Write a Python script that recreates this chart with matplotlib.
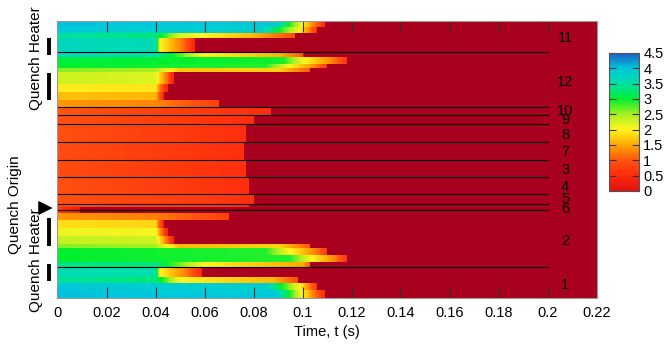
import numpy as np
import matplotlib
matplotlib.use("Agg")
import matplotlib.pyplot as plt
from matplotlib.colors import LinearSegmentedColormap, Normalize

plt.rcParams['font.family'] = ['Liberation Sans', 'DejaVu Sans']

########## data ######################################################################
# position along the coil (arbitrary units, 0 = bottom edge, 277 = top edge)
# each band: lower edge, upper edge, breakpoint times and values (-1 = quenched)
band_lo = [0, 8, 15, 21, 31, 36, 43, 50, 54, 62, 70, 78, 85, 91, 94, 104, 121, 138,
           156, 174, 183, 191, 198, 206, 214, 226, 230, 234, 241, 246, 260, 265, 271]
band_hi = band_lo[1:] + [277]

band_t = [
    [0, 0.089, 0.100, 0.109, 0.1095],
    [0, 0.085, 0.099, 0.106, 0.1065],
    [0, 0.040, 0.050, 0.088, 0.098, 0.0985],
    [0, 0.040, 0.042, 0.053, 0.059, 0.0595],
    [0, 0.040, 0.060, 0.100, 0.103, 0.1035],
    [0, 0.095, 0.104, 0.113, 0.118, 0.1185],
    [0, 0.085, 0.095, 0.105, 0.110, 0.1105],
    [0, 0.040, 0.050, 0.090, 0.103, 0.1035],
    [0, 0.040, 0.0445, 0.0475, 0.048],
    [0, 0.040, 0.0425, 0.045, 0.0455],
    [0, 0.040, 0.0415, 0.0435, 0.044],
    [0, 0.040, 0.070, 0.0705],
    [0, 0.004, 0.009, 0.0095],
    [0, 0.070, 0.078, 0.0785],
    [0, 0.070, 0.080, 0.0805],
    [0, 0.078, 0.0785],
    [0, 0.077, 0.0775],
    [0, 0.076, 0.0765],
    [0, 0.077, 0.0775],
    [0, 0.080, 0.0805],
    [0, 0.087, 0.0875],
    [0, 0.040, 0.066, 0.0665],
    [0, 0.040, 0.0415, 0.0435, 0.044],
    [0, 0.040, 0.042, 0.045, 0.0455],
    [0, 0.040, 0.0445, 0.0475, 0.048],
    [0, 0.040, 0.050, 0.090, 0.103, 0.1035],
    [0, 0.085, 0.095, 0.105, 0.110, 0.1105],
    [0, 0.092, 0.101, 0.112, 0.118, 0.1185],
    [0, 0.040, 0.060, 0.090, 0.100, 0.1005],
    [0, 0.040, 0.042, 0.051, 0.056, 0.0565],
    [0, 0.040, 0.050, 0.080, 0.097, 0.0975],
    [0, 0.083, 0.099, 0.106, 0.1065],
    [0, 0.089, 0.100, 0.109, 0.1095],
]
band_v = [
    [4.02, 3.95, 2.0, 0.5, -1],
    [3.95, 3.85, 2.0, 0.6, -1],
    [3.45, 3.3, 2.0, 1.6, 0.9, -1],
    [3.6, 3.5, 2.0, 1.2, 0.4, -1],
    [3.35, 3.3, 2.0, 1.5, 1.0, -1],
    [3.0, 2.9, 2.0, 1.3, 0.6, -1],
    [3.0, 2.9, 2.0, 1.3, 0.6, -1],
    [2.6, 2.5, 1.6, 1.8, 1.0, -1],
    [2.35, 2.3, 1.2, 0.3, -1],
    [2.1, 2.05, 1.2, 0.3, -1],
    [1.85, 1.8, 1.1, 0.3, -1],
    [1.4, 1.25, 0.75, -1],
    [0.65, 0.45, 0.2, -1],
    [0.85, 0.65, 0.55, -1],
    [0.95, 0.65, 0.55, -1],
    [0.95, 0.55, -1],
    [0.9, 0.55, -1],
    [0.9, 0.55, -1],
    [0.95, 0.55, -1],
    [0.95, 0.55, -1],
    [1.0, 0.55, -1],
    [1.4, 1.3, 0.75, -1],
    [1.65, 1.6, 1.1, 0.3, -1],
    [1.95, 1.9, 1.2, 0.3, -1],
    [2.3, 2.2, 1.2, 0.3, -1],
    [2.6, 2.5, 1.7, 1.8, 1.0, -1],
    [3.0, 2.9, 2.0, 1.3, 0.6, -1],
    [3.05, 2.95, 2.0, 1.3, 0.6, -1],
    [3.75, 3.5, 2.0, 1.6, 1.0, -1],
    [3.7, 3.6, 2.0, 1.2, 0.4, -1],
    [3.45, 3.3, 2.2, 1.6, 0.9, -1],
    [3.95, 3.85, 2.0, 0.6, -1],
    [4.02, 3.95, 2.0, 0.5, -1],
]

# zone boundaries and zone numbers
line_pos = [246, 191, 183, 174, 156, 138, 121, 104, 94, 88, 31]
zone_names = ["11", "12", "10", "9", "8", "7", "3", "4", "5", "6", "2", "1"]
zone_pos = [260, 216, 187, 178, 163, 146, 128, 111, 99, 89, 57, 13]

# quench heater strips and quench origin
heater_lo = [243, 198, 52, 17]
heater_hi = [260, 225, 80, 34]
origin_pos = 90

xticks = np.arange(0, 0.2201, 0.02)
xtick_labels = ["0", "0.02", "0.04", "0.06", "0.08", "0.1", "0.12", "0.14", "0.16", "0.18", "0.2", "0.22"]
cb_ticks = [0, 0.5, 1, 1.5, 2, 2.5, 3, 3.5, 4, 4.5]

########## build field #################################################
t_edges = np.arange(0, 0.22001, 0.0005)
t_mid = 0.5 * (t_edges[1:] + t_edges[:-1])
y_edges = np.array(band_lo + [band_hi[-1]], dtype=float)
Z = np.array([np.interp(t_mid, tt, vv, right=-1) for tt, vv in zip(band_t, band_v)])

cmap = LinearSegmentedColormap.from_list("quench", [
    (0.0, "#e01010"), (0.5 / 4.5, "#ff2a0c"), (1.0 / 4.5, "#ff5510"),
    (1.5 / 4.5, "#ffa800"), (2.0 / 4.5, "#fff520"), (2.5 / 4.5, "#a8f020"),
    (3.0 / 4.5, "#00f030"), (3.5 / 4.5, "#00e0a8"), (4.0 / 4.5, "#00c8dc"),
    (1.0, "#1e5ec0")])
cmap.set_under("#a8001e")
norm = Normalize(vmin=0, vmax=4.5)

########## plotting #################################################
fig = plt.figure(figsize=(6.66, 3.45), dpi=100)
ax = fig.add_axes([0.0863, 0.1362, 0.810, 0.803])
mesh = ax.pcolormesh(t_edges, y_edges, Z, cmap=cmap, norm=norm, shading="flat")

for p in line_pos:
    ax.plot([0, 0.2], [p, p], color="black", lw=0.8)
for name, p in zip(zone_names, zone_pos):
    ax.text(0.207, p, name, ha="center", va="center", fontsize=10.5, color="black")

ax.set_xlim(0, 0.22)
ax.set_ylim(0, 277)
ax.set_yticks([])
ax.set_xticks(xticks)
ax.set_xticklabels(xtick_labels, fontsize=10.5)
ax.tick_params(axis="x", direction="in", length=8, top=True, color="#333333", pad=6)
for s in ax.spines.values():
    s.set_color("#999999")
ax.set_xlabel("Time, t (s)", fontsize=10.5, labelpad=3)

# heater bars, origin arrow and side labels
trans = ax.get_yaxis_transform()
for lo, hi in zip(heater_lo, heater_hi):
    ax.plot([-0.015, -0.015], [lo, hi], color="black", lw=2.8, transform=trans,
            clip_on=False, solid_capstyle="butt")
ax.annotate("", xy=(-0.004, origin_pos), xytext=(-0.035, origin_pos), xycoords=trans,
            textcoords=trans, annotation_clip=False,
            arrowprops=dict(arrowstyle="-|>,head_length=0.9,head_width=0.45",
                            color="black", lw=0.8))
ax.text(-0.039, 240, "Quench Heater", rotation=90, ha="center", va="center",
        fontsize=11, transform=trans)
ax.text(-0.078, 93, "Quench Origin", rotation=90, ha="center", va="center",
        fontsize=11, transform=trans)
ax.text(-0.039, 38, "Quench Heater", rotation=90, ha="center", va="center",
        fontsize=11, transform=trans)

# colorbar
cax = fig.add_axes([0.9144, 0.4464, 0.045, 0.40])
cb = fig.colorbar(mesh, cax=cax, ticks=cb_ticks)
cb.ax.set_yticklabels(["0", "0.5", "1", "1.5", "2", "2.5", "3", "3.5", "4", "4.5"], fontsize=10.5)
cb.ax.tick_params(direction="in", length=5, left=True, right=True, pad=3, color="#333333")
cb.outline.set_edgecolor("#555555")

plt.savefig("out.png", dpi=100)
plt.close()
